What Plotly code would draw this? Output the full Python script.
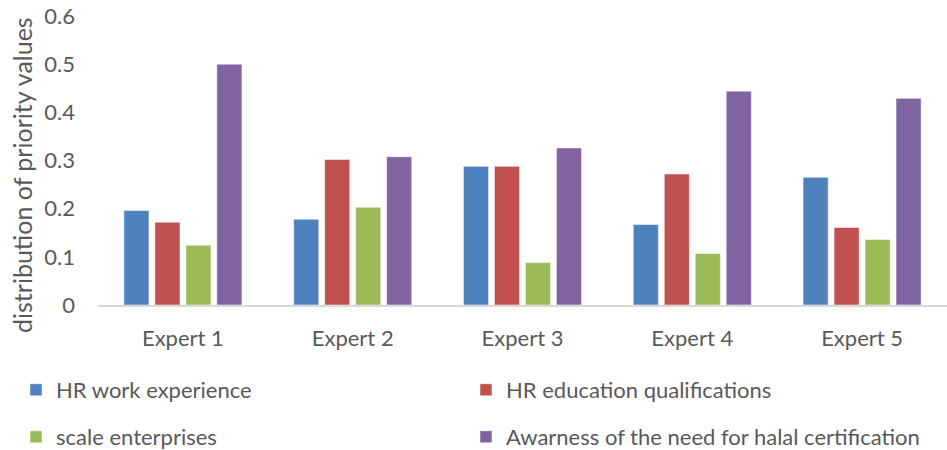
import plotly.graph_objects as go

# Priority weights given by each expert to the four criteria
experts = ["Expert 1", "Expert 2", "Expert 3", "Expert 4", "Expert 5"]
hr_work_experience = [0.196, 0.178, 0.288, 0.167, 0.265]
hr_education = [0.172, 0.302, 0.288, 0.272, 0.161]
scale_enterprises = [0.124, 0.203, 0.088, 0.107, 0.136]
halal_awareness = [0.500, 0.308, 0.326, 0.444, 0.429]

series_names = [
    "HR work experience",
    "HR education qualifications",
    "scale enterprises",
    "Awarness of the need for halal certification",
]
series_values = [hr_work_experience, hr_education, scale_enterprises, halal_awareness]
colors = ["#4F81BD", "#C0504D", "#9BBB59", "#8064A2"]
legend_ids = ["legend", "legend2", "legend3", "legend4"]

FONT = "Lato, 'Liberation Sans', sans-serif"
TEXT = "#595959"

fig = go.Figure()
for name, vals, col, lg in zip(series_names, series_values, colors, legend_ids):
    fig.add_trace(go.Bar(
        x=experts, y=vals, name=name, legend=lg,
        marker=dict(color=col, line=dict(color="rgba(255,255,255,0.5)", width=1)),
    ))

W, H = 947, 450
L, R, T, B = 98, 0, 16, 145
pw, ph = W - L - R, H - T - B


def px_x(x):
    return (x - L) / pw


def px_y(y):
    return (H - B - y) / ph


legend_pos = [(16, 390), (466, 390), (16, 437), (466, 437)]
legend_layout = {}
for lg, (lx, ly) in zip(legend_ids, legend_pos):
    legend_layout[lg] = dict(
        x=px_x(lx), y=px_y(ly), xanchor="left", yanchor="middle",
        orientation="h", bgcolor="rgba(0,0,0,0)",
        font=dict(family=FONT, size=22, color=TEXT),
    )

fig.update_layout(
    width=W, height=H,
    margin=dict(l=L, r=R, t=T, b=B, autoexpand=False),
    paper_bgcolor="white", plot_bgcolor="white",
    barmode="group", bargap=0.27, bargroupgap=0.19,
    font=dict(family=FONT, size=22, color=TEXT),
    showlegend=True,
    **legend_layout,
)

fig.update_yaxes(
    range=[0, 0.6], dtick=0.1, tickformat="~g",
    showgrid=False, zeroline=False, showline=False,
    ticks="", ticklabelstandoff=22,
    tickfont=dict(family=FONT, size=22, color=TEXT),
)
fig.update_xaxes(
    showgrid=False, showline=True, linecolor="#D9D9D9", linewidth=2,
    ticks="", ticklabelstandoff=13,
    tickfont=dict(family=FONT, size=22, color=TEXT),
)

fig.add_annotation(
    text="distribution of priority values", textangle=-90,
    xref="paper", yref="paper", x=px_x(22), y=px_y(175),
    xanchor="center", yanchor="middle", showarrow=False,
    font=dict(family=FONT, size=25, color=TEXT),
)

fig.write_html("out.html")
